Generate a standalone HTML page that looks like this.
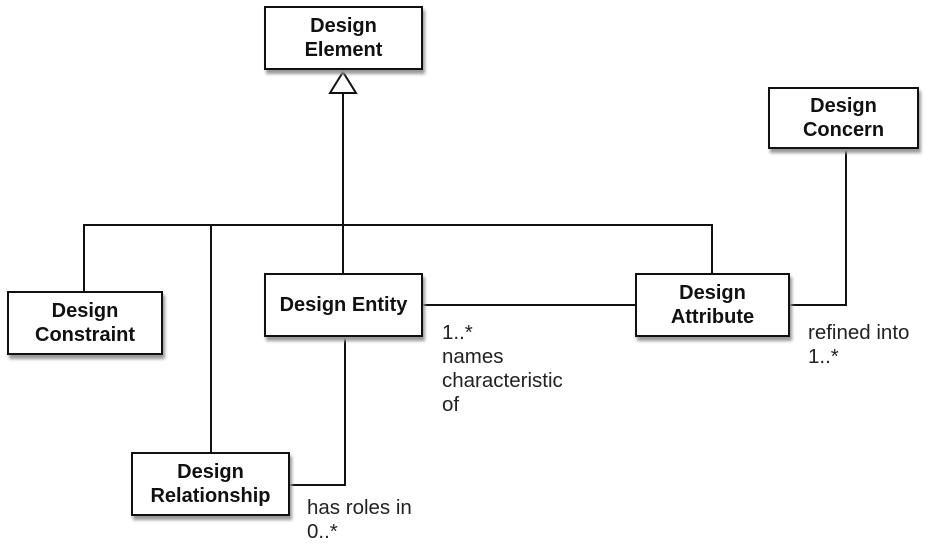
<!DOCTYPE html>
<html><head><style>
body{margin:0;background:#fff;width:932px;height:554px;overflow:hidden;position:relative;font-family:"Liberation Sans",sans-serif}
.b{position:absolute;box-sizing:border-box;border:2px solid #111;background:#fff;box-shadow:2px 4px 3px #999;display:flex;align-items:center;justify-content:center;text-align:center;font-weight:bold;font-size:20px;line-height:24px;color:#111}
.t{position:absolute;font-size:20.5px;line-height:24px;color:#222}
svg{position:absolute;left:0;top:0}
</style></head><body>
<svg width="932" height="554">
<g stroke="#111" stroke-width="2" fill="none">
<line x1="343" y1="93" x2="343" y2="273"/>
<polyline points="84,291 84,225 712,225 712,273"/>
<line x1="211" y1="225" x2="211" y2="452"/>
<line x1="422" y1="305" x2="635" y2="305"/>
<polyline points="789,305 846,305 846,148"/>
<polyline points="289,485 345,485 345,336"/>
<polygon points="343,72 330,93 356,93" fill="#fff"/>
</g>
</svg>
<div class="b" style="left:264px;top:6px;width:159px;height:64px">Design<br>Element</div>
<div class="b" style="left:768px;top:87px;width:151px;height:62px">Design<br>Concern</div>
<div class="b" style="left:264px;top:273px;width:159px;height:64px">Design Entity</div>
<div class="b" style="left:635px;top:273px;width:155px;height:64px">Design<br>Attribute</div>
<div class="b" style="left:7px;top:291px;width:156px;height:64px">Design<br>Constraint</div>
<div class="b" style="left:131px;top:452px;width:159px;height:64px">Design<br>Relationship</div>
<div class="t" style="left:442px;top:321px">1..*<br>names<br>characteristic<br>of</div>
<div class="t" style="left:808px;top:321px">refined into<br>1..*</div>
<div class="t" style="left:307px;top:496px">has roles in<br>0..*</div>
</body></html>
